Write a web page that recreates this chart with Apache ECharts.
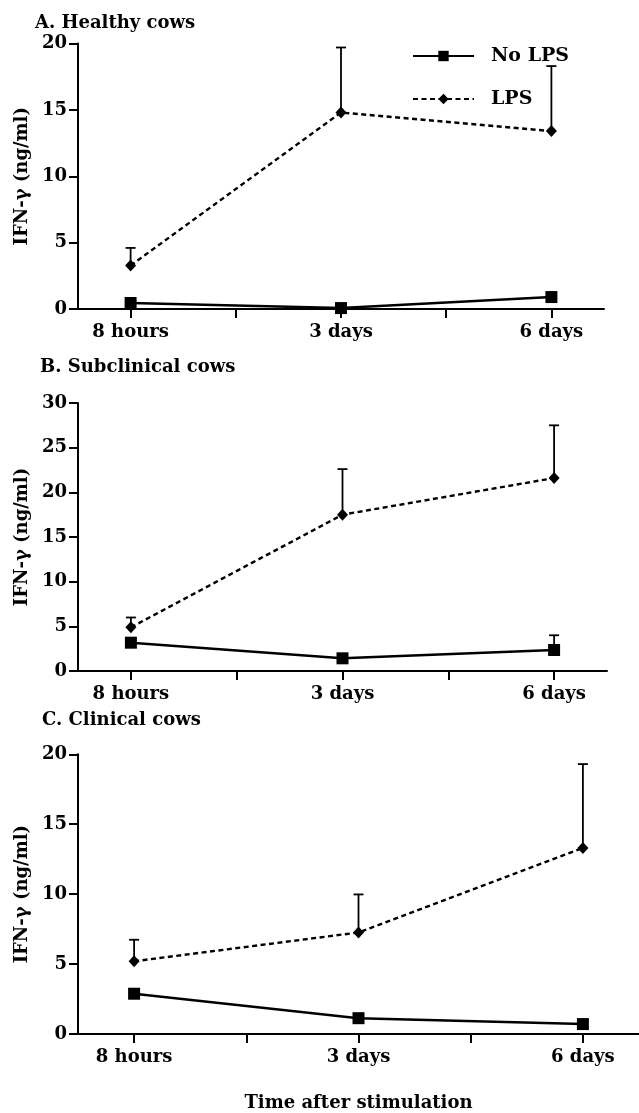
<!DOCTYPE html>
<html>
<head>
<meta charset="utf-8">
<script src="https://cdn.jsdelivr.net/npm/echarts@6/dist/echarts.min.js"></script>
<style>
html,body{margin:0;padding:0;background:#fff;}
#chart{width:639px;height:1113px;}
</style>
</head>
<body>
<div id="chart"></div>
<script>
// ---- data ----
const categories = ['8 hours', '3 days', '6 days'];
const panelTitles = ['A. Healthy cows', 'B. Subclinical cows', 'C. Clinical cows'];
const seriesNames = ['No LPS', 'LPS'];

const healthyNoLPS = [0.45, 0.07, 0.9];
const healthyNoLPSErr = [0, 0, 0];
const healthyLPS = [3.27, 14.8, 13.4];
const healthyLPSErr = [1.33, 4.9, 4.9];

const subNoLPS = [3.17, 1.42, 2.35];
const subNoLPSErr = [0, 0, 1.65];
const subLPS = [4.89, 17.5, 21.6];
const subLPSErr = [1.1, 5.1, 5.9];

const clinNoLPS = [2.88, 1.13, 0.71];
const clinNoLPSErr = [0, 0, 0];
const clinLPS = [5.2, 7.26, 13.3];
const clinLPSErr = [1.54, 2.72, 6.0];

const yMax = [20, 30, 20];
const yTickStep = 5;
const xTickValues = [0, 0.5, 1, 1.5, 2];
const xLabelValues = [0, 1, 2];

// ---- layout / style ----
const FONT = 'DejaVu Serif';
const grids = [
  {left: 78, top: 43.5, width: 526, height: 265.5},
  {left: 78, top: 403, width: 529, height: 268},
  {left: 78, top: 754.3, width: 561, height: 282.4}
];
const titlePos = [{left: 35, top: 14}, {left: 40, top: 358}, {left: 42, top: 711}];

const panels = [
  {noLps: healthyNoLPS, noLpsErr: healthyNoLPSErr, lps: healthyLPS, lpsErr: healthyLPSErr},
  {noLps: subNoLPS, noLpsErr: subNoLPSErr, lps: subLPS, lpsErr: subLPSErr},
  {noLps: clinNoLPS, noLpsErr: clinNoLPSErr, lps: clinLPS, lpsErr: clinLPSErr}
];

const txt = {fontFamily: FONT, fontWeight: 'bold', color: '#000'};

function pts(arr) { return arr.map((v, i) => [i, v]); }
function errPts(arr, err) { return arr.map((v, i) => [i, v, err[i]]); }

function renderErr(params, api) {
  const x = api.value(0), y = api.value(1), e = api.value(2);
  if (!(e > 0)) return null;
  const p0 = api.coord([x, y]);
  const p1 = api.coord([x, y + e]);
  return {
    type: 'group',
    children: [
      {type: 'line', shape: {x1: p0[0], y1: p0[1], x2: p1[0], y2: p1[1]}, style: {stroke: '#000', lineWidth: 1.8}},
      {type: 'line', shape: {x1: p1[0] - 5, y1: p1[1], x2: p1[0] + 5, y2: p1[1]}, style: {stroke: '#000', lineWidth: 1.8}}
    ]
  };
}

const xAxes = [], yAxes = [], lineSeries = [], errSeries = [];
panels.forEach((p, k) => {
  xAxes.push({
    gridIndex: k, type: 'value', min: -0.25, max: 2.25,
    splitLine: {show: false},
    axisLine: {show: true, onZero: false, lineStyle: {color: '#000', width: 2}},
    axisTick: {show: true, length: 9, lineStyle: {color: '#000', width: 2}, customValues: xTickValues},
    axisLabel: Object.assign({fontSize: 18, margin: 14, customValues: xLabelValues,
      formatter: v => categories[Math.round(v)] || ''}, txt),
    name: k === 2 ? 'Time after stimulation' : '',
    nameLocation: 'middle', nameGap: 60,
    nameTextStyle: Object.assign({fontSize: 18}, txt)
  });
  yAxes.push({
    gridIndex: k, type: 'value', min: 0, max: yMax[k], interval: yTickStep,
    splitLine: {show: false},
    axisLine: {show: true, onZero: false, lineStyle: {color: '#000', width: 2}},
    axisTick: {show: true, length: 9, lineStyle: {color: '#000', width: 2}},
    axisLabel: Object.assign({fontSize: 18, margin: 11}, txt),
    name: 'IFN-γ (ng/ml)', nameLocation: 'middle', nameGap: 47,
    nameTextStyle: Object.assign({fontSize: 18}, txt)
  });
  lineSeries.push({
    name: seriesNames[0], type: 'line', xAxisIndex: k, yAxisIndex: k,
    data: pts(p.noLps), symbol: 'rect', symbolSize: 12, showAllSymbol: true,
    lineStyle: {color: '#000', width: 2.4, type: 'solid'},
    itemStyle: {color: '#000'}, z: 3
  });
  lineSeries.push({
    name: seriesNames[1], type: 'line', xAxisIndex: k, yAxisIndex: k,
    data: pts(p.lps), symbol: 'diamond', symbolSize: [11, 12], showAllSymbol: true,
    lineStyle: {color: '#000', width: 2.4, type: [5, 3.5]},
    itemStyle: {color: '#000'}, z: 3
  });
  errSeries.push({
    name: seriesNames[1], type: 'custom', xAxisIndex: k, yAxisIndex: k,
    renderItem: renderErr, data: errPts(p.lps, p.lpsErr), z: 1, silent: true,
    encode: {x: 0, y: 1}
  });
  errSeries.push({
    name: seriesNames[0], type: 'custom', xAxisIndex: k, yAxisIndex: k,
    renderItem: renderErr, data: errPts(p.noLps, p.noLpsErr), z: 1, silent: true,
    encode: {x: 0, y: 1}
  });
});

const chart = echarts.init(document.getElementById('chart'), null, {renderer: 'canvas'});
chart.setOption({
  animation: false,
  backgroundColor: '#fff',
  color: ['#000'],
  title: panelTitles.map((t, k) => ({
    text: t, left: titlePos[k].left, top: titlePos[k].top, padding: 0,
    textStyle: Object.assign({fontSize: 18}, txt)
  })),
  legend: {
    data: seriesNames,
    orient: 'vertical', left: 412, top: 46, itemWidth: 61, itemHeight: 13, itemGap: 23,
    padding: 0,
    textStyle: Object.assign({fontSize: 19, padding: [0, 0, 0, 12], lineHeight: 20}, txt)
  },
  grid: grids.map(g => Object.assign({containLabel: false}, g)),
  xAxis: xAxes,
  yAxis: yAxes,
  series: lineSeries.concat(errSeries)
});
</script>
</body>
</html>
